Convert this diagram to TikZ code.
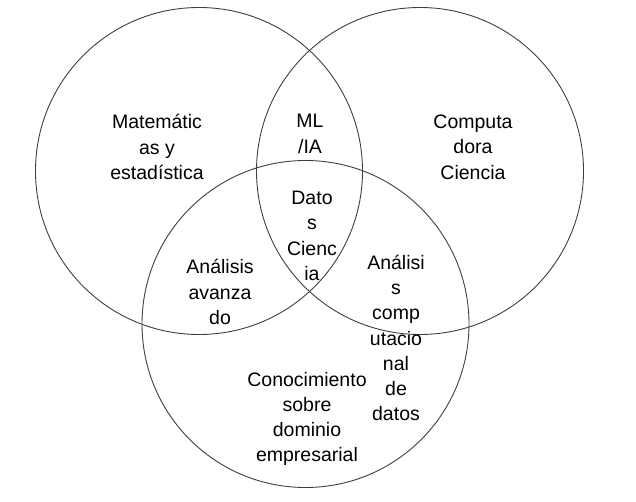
\documentclass[tikz,border=0pt]{standalone}
\usepackage{fontspec}
\setmainfont{Liberation Sans}
\begin{document}
\begin{tikzpicture}[x=1pt,y=-1pt,
  setcircle/.style={circle,draw=black!75,line width=0.9pt,minimum size=327pt,inner sep=0pt},
  label/.style={align=center,inner sep=0pt,text=black,font=\fontsize{19.5}{25.3}\selectfont}]
  \useasboundingbox[fill=white] (0,0) rectangle (636,502);

  % the three overlapping sets
  \node[setcircle] (mat) at (199,171) {};
  \node[setcircle] (comp) at (420,171) {};
  \node[setcircle] (emp) at (305.5,324) {};

  % region labels
  \node[label] (tmat) at (157,147) {Matemátic\\as y\\estadística};
  \node[label] (tcomp) at (473,147) {Computa\\dora\\Ciencia};
  \node[label] (tml) at (310,134) {ML\\/IA};
  \node[label] (tdatos) at (312,236) {Dato\\s\\Cienc\\ia};
  \node[label] (tavz) at (220,292) {Análisis\\avanza\\do};
  \node[label] (tcompd) at (396,338) {Análisi\\s\\comp\\utacio\\nal\\de\\datos};
  \node[label] (tcon) at (307,419) {Conocimiento\\sobre\\dominio\\empresarial};
\end{tikzpicture}
\end{document}
